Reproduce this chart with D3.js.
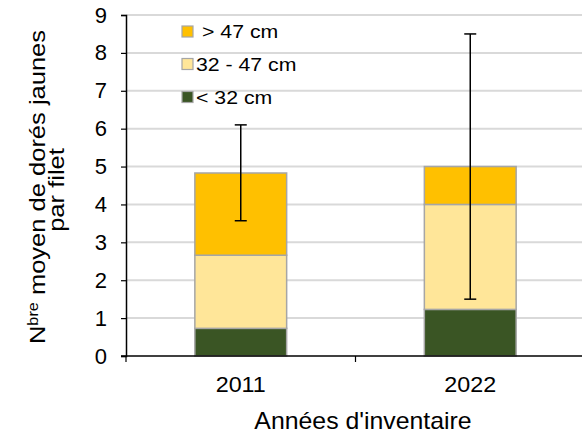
<!DOCTYPE html>
<html>
<head>
<meta charset="utf-8">
<script src="https://cdn.jsdelivr.net/npm/d3@7"></script>
<style>
  body { margin: 0; background: #fff; }
  svg { display: block; font-family: "Liberation Sans", Arial, sans-serif; }
</style>
</head>
<body>
<svg id="chart" width="582" height="436"></svg>
<script>
// Mean walleye catch per net, by size class and survey year
const years = ["2011", "2022"];
const small = [0.73, 1.23];   // < 32 cm
const medium = [1.93, 2.77];  // 32 - 47 cm
const large = [2.17, 1.00];   // > 47 cm
const errLow = [3.57, 1.50];
const errHigh = [6.10, 8.50];
const yTicks = [0, 1, 2, 3, 4, 5, 6, 7, 8, 9];
const seriesNames = ["< 32 cm", "32 - 47 cm", "> 47 cm"];
const seriesColors = ["#3a5524", "#ffe699", "#ffc000"];

const svg = d3.select("#chart");
const plotLeft = 126, plotRight = 585, plotTop = 15, plotBottom = 356;

const x = d3.scaleBand().domain(years).range([plotLeft, plotRight]).paddingInner(0.6).paddingOuter(0.3);
const y = d3.scaleLinear().domain([0, 9]).range([plotBottom, plotTop]);

const rows = years.map((yr, i) => ({ year: yr, s0: small[i], s1: medium[i], s2: large[i] }));
const stacked = d3.stack().keys(["s0", "s1", "s2"])(rows);

// gridlines
svg.append("g").selectAll("line").data(yTicks.filter(t => t > 0)).join("line")
  .attr("x1", plotLeft).attr("x2", plotRight)
  .attr("y1", d => y(d)).attr("y2", d => y(d))
  .attr("stroke", "#d9d9d9").attr("stroke-width", 2);

// stacked bars
svg.append("g").selectAll("g").data(stacked).join("g")
  .attr("fill", (d, i) => seriesColors[i])
  .selectAll("rect").data(d => d).join("rect")
  .attr("x", d => x(d.data.year))
  .attr("width", x.bandwidth())
  .attr("y", d => y(d[1]))
  .attr("height", d => y(d[0]) - y(d[1]))
  .attr("stroke", "#a6a6a6").attr("stroke-width", 1.5);

// error bars
const eb = svg.append("g").attr("stroke", "#000").attr("stroke-width", 1.5);
years.forEach((yr, i) => {
  const cx = x(yr) + x.bandwidth() / 2;
  eb.append("line").attr("x1", cx).attr("x2", cx).attr("y1", y(errLow[i])).attr("y2", y(errHigh[i]));
  [errLow[i], errHigh[i]].forEach(v => {
    eb.append("line").attr("x1", cx - 6).attr("x2", cx + 6).attr("y1", y(v)).attr("y2", y(v));
  });
});

// y axis
const yAxis = svg.append("g").attr("transform", `translate(${plotLeft},0)`)
  .call(d3.axisLeft(y).tickValues(yTicks).tickSize(5).tickPadding(14));
yAxis.select(".domain").attr("stroke", "#000").attr("stroke-width", 1.5);
yAxis.selectAll(".tick line").attr("stroke", "#000").attr("stroke-width", 1.2);
yAxis.selectAll("text").attr("font-size", 22).attr("fill", "#000");

// x axis: category labels, baseline and boundary ticks between categories
const xAxis = svg.append("g").attr("transform", `translate(0,${plotBottom})`)
  .call(d3.axisBottom(x).tickSize(0).tickPadding(20));
xAxis.select(".domain").remove();
xAxis.selectAll(".tick text").attr("font-size", 22).attr("fill", "#000")
  .attr("transform", "scale(1.06,1)");
svg.append("line").attr("x1", plotLeft - 5).attr("x2", plotRight).attr("y1", plotBottom).attr("y2", plotBottom)
  .attr("stroke", "#000").attr("stroke-width", 1.5);
const step = x.step();
const bounds = [x(years[0]) - x.paddingOuter() * step, x(years[0]) + x.bandwidth() + x.paddingInner() * step / 2];
svg.append("g").selectAll("line").data(bounds).join("line")
  .attr("x1", d => d).attr("x2", d => d).attr("y1", plotBottom).attr("y2", plotBottom + 6)
  .attr("stroke", "#000").attr("stroke-width", 1.2);

// axis titles
svg.append("text").attr("transform", "translate(363,429) scale(1.08,1)")
  .attr("text-anchor", "middle").attr("font-size", 23).attr("fill", "#000")
  .text("Années d'inventaire");

const yt = svg.append("text").attr("transform", "translate(45,187) rotate(-90) scale(1.16,1)")
  .attr("text-anchor", "middle").attr("font-size", 22).attr("fill", "#000");
yt.append("tspan").text("N");
yt.append("tspan").attr("font-size", 14).attr("dy", -7).text("bre");
yt.append("tspan").attr("dy", 7).text(" moyen de dorés jaunes");
svg.append("text").attr("transform", "translate(64,190) rotate(-90) scale(1.16,1)")
  .attr("text-anchor", "middle").attr("font-size", 22).attr("fill", "#000")
  .text("par filet");

// legend (top entry = largest class)
const legend = svg.append("g");
const legendOrder = [2, 1, 0];
const legendY = [31.5, 64, 97];
const legendTextX = [202, 196, 196];
legendOrder.forEach((k, j) => {
  legend.append("rect").attr("x", 182).attr("y", legendY[j] - 5.5).attr("width", 11).attr("height", 11)
    .attr("fill", seriesColors[k]).attr("stroke", "#a6a6a6").attr("stroke-width", 1.2);
  legend.append("text").attr("transform", `translate(${legendTextX[j]},${legendY[j] + 6.5}) scale(1.12,1)`)
    .attr("font-size", 19).attr("fill", "#000").text(seriesNames[k]);
});
</script>
</body>
</html>
